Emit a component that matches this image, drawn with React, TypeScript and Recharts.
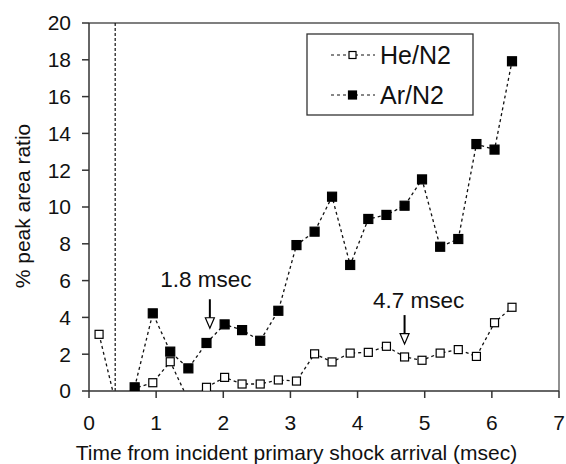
import React from 'react';
import {
  LineChart,
  Line,
  XAxis,
  YAxis,
  ReferenceLine,
  ReferenceDot,
  Legend,
  Label,
} from 'recharts';

const FONT = '"Liberation Sans", Arial, Helvetica, sans-serif';

// sampling times, msec after incident shock arrival
const times = [
  0.15, 0.42, 0.68, 0.95, 1.21, 1.48, 1.75, 2.02, 2.28, 2.55, 2.82, 3.09,
  3.36, 3.62, 3.89, 4.16, 4.43, 4.7, 4.96, 5.23, 5.5, 5.77, 6.04, 6.3,
];

// % peak area ratio per driver gas (values below zero fall under the axis)
const heN2 = [
  3.08, -1.0, 0.15, 0.45, 1.59, -0.5, 0.2, 0.74, 0.38, 0.38, 0.6, 0.54,
  2.02, 1.58, 2.06, 2.1, 2.43, 1.85, 1.67, 2.06, 2.25, 1.88, 3.71, 4.55,
];
const arN2 = [
  null, null, 0.2, 4.22, 2.14, 1.23, 2.61, 3.62, 3.31, 2.73, 4.36, 7.93,
  8.66, 10.56, 6.85, 9.35, 9.57, 10.07, 11.5, 7.84, 8.26, 13.42, 13.12, 17.92,
];

const xTicks = [0, 1, 2, 3, 4, 5, 6, 7];
const yTicks = [0, 2, 4, 6, 8, 10, 12, 14, 16, 18, 20];

// dashed marker for the reflected shock
const markerTime = 0.39;

// arrow annotations: time, level of arrow tip, text
const noteTimes = [1.8, 4.7];
const noteLevels = [3.41, 2.55];
const noteTexts = ['1.8 msec', '4.7 msec'];
const noteTextOffsets = [
  { dx: -4, dy: -41 },
  { dx: 14, dy: -36 },
];

const data = times.map((t, i) => ({ t, he: heN2[i], ar: arN2[i] }));

const squareDot = (fill: string, size: number) => (props: any) => {
  const { cx, cy, index } = props;
  if (cx == null || cy == null || Number.isNaN(cy)) {
    return <g key={`${fill}-${index}`} />;
  }
  return (
    <rect
      key={`${fill}-${index}`}
      x={cx - size / 2}
      y={cy - size / 2}
      width={size}
      height={size}
      fill={fill}
      stroke="#000"
      strokeWidth={1.2}
    />
  );
};

const arrowShape = (i: number) => (props: any) => {
  const { cx, cy } = props;
  const off = noteTextOffsets[i];
  return (
    <g>
      <line x1={cx} y1={cy - 29} x2={cx} y2={cy - 10} stroke="#000" strokeWidth={2} />
      <path
        d={`M${cx - 4.5},${cy - 10.5} L${cx + 4.5},${cy - 10.5} L${cx},${cy} Z`}
        fill="#fff"
        stroke="#000"
        strokeWidth={1.2}
      />
      <text
        x={cx + off.dx}
        y={cy + off.dy}
        textAnchor="middle"
        fontSize={22.5}
        fontFamily={FONT}
        fill="#111"
      >
        {noteTexts[i]}
      </text>
    </g>
  );
};

const legendItems = [
  { name: 'He/N2', fill: '#fff', size: 7 },
  { name: 'Ar/N2', fill: '#000', size: 8 },
];

const LegendBox = () => (
  <svg width={168} height={83}>
    <rect x={1} y={1} width={166} height={81} fill="#fff" stroke="#333" strokeWidth={1.3} />
    {legendItems.map((item, i) => {
      const y = 22 + i * 40;
      return (
        <g key={item.name}>
          <line x1={25} y1={y} x2={69} y2={y} stroke="#111" strokeWidth={1.2} strokeDasharray="3 3" />
          <rect
            x={46.5 - item.size / 2}
            y={y - item.size / 2}
            width={item.size}
            height={item.size}
            fill={item.fill}
            stroke="#000"
            strokeWidth={1.2}
          />
          <text x={74} y={y + 9} fontSize={25} fontFamily={FONT} fill="#111">
            {item.name}
          </text>
        </g>
      );
    })}
  </svg>
);

export default function App() {
  return (
    <div style={{ position: 'absolute', left: 0, top: 0, background: '#fff' }}>
      <LineChart
        width={566}
        height={464}
        data={data}
        margin={{ top: 23, right: 7, left: 0, bottom: 0 }}
      >
        <XAxis
          dataKey="t"
          type="number"
          domain={[0, 7]}
          ticks={xTicks}
          interval={0}
          height={73}
          tickSize={7}
          tickMargin={17}
          axisLine={{ stroke: '#333', strokeWidth: 1.5 }}
          tickLine={{ stroke: '#333', strokeWidth: 1.5 }}
          tick={{ fontSize: 21, fill: '#111', fontFamily: FONT }}
        >
          <Label
            content={() => (
              <text x={296.5} y={460} textAnchor="middle" fontSize={21} fontFamily={FONT} fill="#111">
                Time from incident primary shock arrival (msec)
              </text>
            )}
          />
        </XAxis>
        <YAxis
          type="number"
          domain={[0, 20]}
          ticks={yTicks}
          interval={0}
          allowDataOverflow
          width={89}
          tickSize={7}
          tickMargin={11}
          axisLine={{ stroke: '#333', strokeWidth: 1.5 }}
          tickLine={{ stroke: '#333', strokeWidth: 1.5 }}
          tick={{ fontSize: 21, fill: '#111', fontFamily: FONT }}
        >
          <Label
            content={() => (
              <text
                x={30}
                y={206}
                transform="rotate(-90 30 206)"
                textAnchor="middle"
                fontSize={21}
                fontFamily={FONT}
                fill="#111"
              >
                % peak area ratio
              </text>
            )}
          />
        </YAxis>
        <ReferenceLine y={20} stroke="#555" strokeWidth={1.3} />
        <ReferenceLine x={7} stroke="#555" strokeWidth={1.3} />
        <ReferenceLine x={markerTime} stroke="#111" strokeWidth={1.2} strokeDasharray="3 2" />
        <Legend
          layout="horizontal"
          verticalAlign="middle"
          align="center"
          content={() => <LegendBox />}
          wrapperStyle={{ position: 'absolute', left: 306, top: 33, width: 168, height: 83 }}
        />
        <Line
          dataKey="he"
          name="He/N2"
          stroke="#111"
          strokeWidth={1.3}
          strokeDasharray="3 3"
          dot={squareDot('#fff', 8)}
          activeDot={false}
          isAnimationActive={false}
        />
        <Line
          dataKey="ar"
          name="Ar/N2"
          stroke="#111"
          strokeWidth={1.3}
          strokeDasharray="3 3"
          dot={squareDot('#000', 9)}
          activeDot={false}
          isAnimationActive={false}
        />
        {noteTimes.map((t, i) => (
          <ReferenceDot key={t} x={t} y={noteLevels[i]} shape={arrowShape(i)} />
        ))}
      </LineChart>
    </div>
  );
}
